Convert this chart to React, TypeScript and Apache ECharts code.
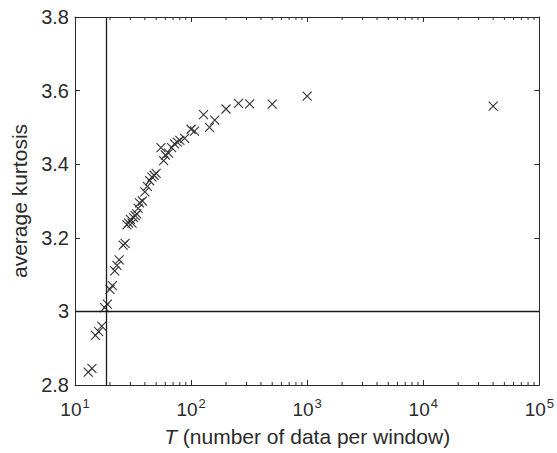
import React, { useEffect, useRef } from "react";
import * as echarts from "echarts";

const windowSizes = [13, 14, 15, 16, 17, 18, 19, 20, 21, 22, 23, 24, 26, 27, 28, 29, 30, 31, 32, 33, 34, 35, 36, 38, 40, 42, 44, 46, 48, 50, 55, 58, 60, 64, 68, 72, 76, 80, 88, 100, 107, 128, 144, 160, 200, 256, 320, 500, 1000, 40000];
const avgKurtosis = [2.835, 2.845, 2.935, 2.945, 2.96, 3.01, 3.02, 3.06, 3.07, 3.11, 3.125, 3.14, 3.18, 3.185, 3.235, 3.24, 3.25, 3.24, 3.255, 3.26, 3.265, 3.28, 3.295, 3.3, 3.325, 3.34, 3.355, 3.365, 3.37, 3.375, 3.445, 3.41, 3.425, 3.43, 3.445, 3.455, 3.46, 3.465, 3.47, 3.495, 3.49, 3.535, 3.5, 3.52, 3.55, 3.565, 3.564, 3.563, 3.585, 3.558];

const xTickExponents = [1, 2, 3, 4, 5];
const yTicks = [2.8, 3, 3.2, 3.4, 3.6, 3.8];
const minorTickMultipliers = [2, 3, 4, 5, 6, 7, 8, 9];
const verticalRefT = 18.7;
const horizontalRefK = 3;

const FONT = "Liberation Sans, Arial, Helvetica, sans-serif";
const INK = "#2b2b2b";

export default function App() {
  const ref = useRef<HTMLDivElement>(null);
  useEffect(() => {
    if (!ref.current) return;
    const chart = echarts.init(ref.current, undefined, { renderer: "svg" });
    const minorVals: number[] = [];
    for (let k = xTickExponents[0]; k < xTickExponents[xTickExponents.length - 1]; k++) {
      for (const m of minorTickMultipliers) minorVals.push(m * Math.pow(10, k));
    }
    const yMin = yTicks[0];
    const yMax = yTicks[yTicks.length - 1];
    const axisLine = { show: true, lineStyle: { color: INK, width: 1 } };
    const tick = { show: true, inside: true, length: 5, lineStyle: { color: INK, width: 1 } };
    const xLabel = {
      fontFamily: FONT,
      fontSize: 19,
      color: INK,
      margin: 12,
      formatter: (v: number) => "10{sup|" + Math.round(Math.log10(v)) + "}",
      rich: { sup: { fontSize: 13, fontFamily: FONT, color: INK, verticalAlign: "top", padding: [0, 0, 12, 1] } },
    };
    chart.setOption({
      animation: false,
      backgroundColor: "#ffffff",
      grid: { left: 75, right: 16, top: 17, bottom: 68, containLabel: false },
      xAxis: [
        {
          type: "log",
          logBase: 10,
          min: Math.pow(10, xTickExponents[0]),
          max: Math.pow(10, xTickExponents[xTickExponents.length - 1]),
          position: "bottom",
          axisLine,
          axisTick: tick,
          splitLine: { show: false },
          axisLabel: xLabel,
          name: "{it|T} (number of data per window)",
          nameLocation: "middle",
          nameGap: 41,
          nameTextStyle: {
            fontFamily: FONT,
            fontSize: 21,
            color: INK,
            rich: { it: { fontStyle: "italic", fontFamily: FONT, fontSize: 21, color: INK } },
          },
        },
        {
          type: "log",
          logBase: 10,
          min: Math.pow(10, xTickExponents[0]),
          max: Math.pow(10, xTickExponents[xTickExponents.length - 1]),
          position: "top",
          axisLine,
          axisTick: tick,
          splitLine: { show: false },
          axisLabel: { show: false },
        },
      ],
      yAxis: [
        {
          type: "value",
          min: yMin,
          max: yMax,
          interval: 0.2,
          position: "left",
          axisLine,
          axisTick: tick,
          splitLine: { show: false },
          axisLabel: {
            fontFamily: FONT,
            fontSize: 20,
            color: INK,
            margin: 6,
            formatter: (v: number) => String(+v.toFixed(1)),
          },
          name: "average kurtosis",
          nameLocation: "middle",
          nameGap: 44,
          nameTextStyle: { fontFamily: FONT, fontSize: 21, color: INK },
        },
        {
          type: "value",
          min: yMin,
          max: yMax,
          interval: 0.2,
          position: "right",
          axisLine,
          axisTick: tick,
          splitLine: { show: false },
          axisLabel: { show: false },
        },
      ],
      series: [
        {
          type: "scatter",
          xAxisIndex: 0,
          yAxisIndex: 0,
          data: windowSizes.map((t, i) => [t, avgKurtosis[i]]),
          symbol: "path://M0,0L10,10M10,0L0,10",
          symbolSize: 9,
          itemStyle: { color: "transparent", borderColor: "#333", borderWidth: 1.1, opacity: 1 },
          markLine: {
            silent: true,
            symbol: "none",
            label: { show: false },
            lineStyle: { color: "#1a1a1a", type: "solid", width: 1.3 },
            data: [{ xAxis: verticalRefT }, { yAxis: horizontalRefK }],
          },
          z: 3,
        },
        {
          type: "custom",
          xAxisIndex: 0,
          yAxisIndex: 0,
          silent: true,
          clip: false,
          data: minorVals.map((v) => [v, yMin]),
          renderItem: (params: any, api: any) => {
            const v = api.value(0);
            const b = api.coord([v, yMin]);
            const t = api.coord([v, yMax]);
            const st = { stroke: INK, lineWidth: 1 };
            return {
              type: "group",
              children: [
                { type: "line", shape: { x1: b[0], y1: b[1], x2: b[0], y2: b[1] - 3 }, style: st },
                { type: "line", shape: { x1: t[0], y1: t[1], x2: t[0], y2: t[1] + 3 }, style: st },
              ],
            };
          },
          z: 2,
        },
      ],
    });
    return () => chart.dispose();
  }, []);
  return <div ref={ref} style={{ position: "absolute", left: 0, top: 0, width: 557, height: 453 }} />;
}
